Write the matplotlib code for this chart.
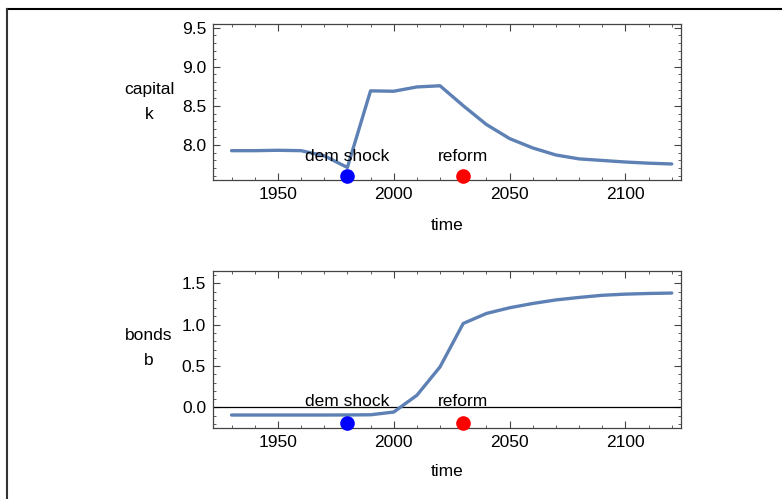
import matplotlib
matplotlib.use("Agg")
import matplotlib.pyplot as plt
from matplotlib.lines import Line2D
from matplotlib.ticker import MultipleLocator

# data
years = [1930, 1940, 1950, 1960, 1970, 1980, 1990, 2000, 2010, 2020,
         2030, 2040, 2050, 2060, 2070, 2080, 2090, 2100, 2110, 2120]
capital = [7.925, 7.925, 7.93, 7.925, 7.86, 7.71, 8.69, 8.685, 8.74, 8.755,
           8.50, 8.26, 8.08, 7.96, 7.87, 7.82, 7.80, 7.78, 7.765, 7.755]
bonds = [-0.093, -0.093, -0.093, -0.093, -0.093, -0.092, -0.09, -0.057, 0.146, 0.49,
         1.015, 1.136, 1.205, 1.257, 1.30, 1.33, 1.356, 1.37, 1.378, 1.383]
events = ["dem shock", "reform"]
event_years = [1980, 2030]
event_colors = ["#0000ff", "#ff0000"]

plt.rcParams["font.family"] = ["Liberation Sans", "DejaVu Sans"]
fs = 12.5

line_color = "#5e81b5"
frame_color = "#444444"

fig = plt.figure(figsize=(7.82, 4.99), dpi=100)

panels = [
    dict(rect=[213 / 782, 1 - 180 / 499, 468 / 782, 156 / 499], y=capital,
         ylabel="capital\nk", ylim=(7.55, 9.545), dot_y=7.605, text_y=7.855,
         label_y=102, time_y=226),
    dict(rect=[213 / 782, 1 - 428 / 499, 468 / 782, 157 / 499], y=bonds,
         ylabel="bonds\nb", ylim=(-0.25, 1.65), dot_y=-0.19, text_y=0.065,
         label_y=348, time_y=472),
]

for p in panels:
    ax = fig.add_axes(p["rect"])
    ax.plot(years, p["y"], color=line_color, lw=2.4, solid_capstyle="round", zorder=3)
    if p["ylim"][0] < 0:
        ax.axhline(0, color="black", lw=0.9, zorder=2)
    for name, yr, col in zip(events, event_years, event_colors):
        ax.plot(yr, p["dot_y"], "o", color=col, ms=9.5, zorder=4, clip_on=False)
        ax.text(yr, p["text_y"], name, ha="center", va="center", fontsize=fs, zorder=5)
    ax.set_xlim(1922, 2124)
    ax.set_ylim(*p["ylim"])
    ax.xaxis.set_major_locator(MultipleLocator(50))
    ax.xaxis.set_minor_locator(MultipleLocator(10))
    ax.yaxis.set_major_locator(MultipleLocator(0.5))
    ax.yaxis.set_minor_locator(MultipleLocator(0.1))
    ax.yaxis.set_major_formatter(matplotlib.ticker.FormatStrFormatter("%.1f"))
    ax.tick_params(which="both", direction="in", top=True, right=True,
                   color=frame_color, labelsize=fs, pad=5)
    ax.tick_params(which="major", length=5, width=0.8)
    ax.tick_params(which="minor", length=2.5, width=0.6)
    for s in ax.spines.values():
        s.set_color(frame_color)
        s.set_linewidth(0.9)
    fig.text(149 / 782, 1 - p["label_y"] / 499, p["ylabel"], ha="center",
             va="center", fontsize=fs, linespacing=1.85)
    fig.text(447 / 782, 1 - p["time_y"] / 499, "time", ha="center", va="center", fontsize=fs)

# outer frame lines (top and left)
fig.add_artist(Line2D([7 / 782, 1], [1 - 8.5 / 499, 1 - 8.5 / 499], color="black", lw=1.5))
fig.add_artist(Line2D([7 / 782, 7 / 782], [0, 1 - 8.5 / 499], color="#333333", lw=1.5))

fig.savefig("out.png", dpi=100)
